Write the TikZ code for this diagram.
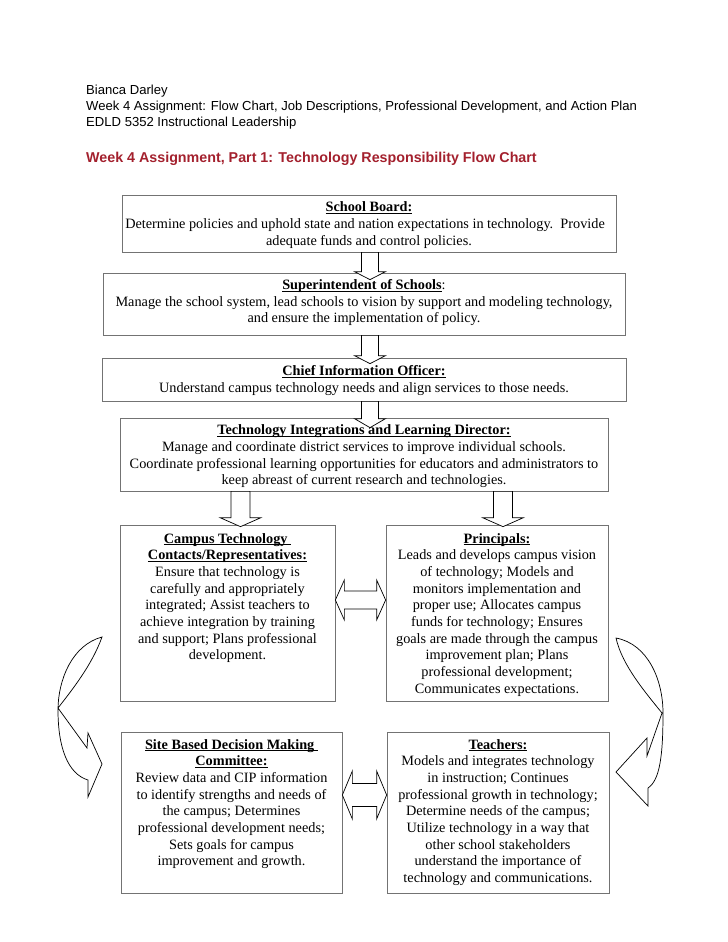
\documentclass[tikz,border=0pt]{standalone}
\usepackage{fontspec}
\setmainfont{Liberation Serif}
\newfontfamily\arialfont{Liberation Sans}
\usetikzlibrary{calc}
\definecolor{titlered}{RGB}{163,32,45}
\def\pxu{0.8407pt}
\newsavebox\ulbox
\newcommand{\uln}[1]{\sbox\ulbox{#1}\rlap{\rule[-1.5pt]{\wd\ulbox}{0.5pt}}\usebox\ulbox}
\def\downblock(#1)(#2)#3#4#5{\draw[blockarr] ($(#1)+(-#3,0)$) -- ($(#1)+(#3,0)$) -- ($(#1 |- #2)+(#3,-#5)$) -- ($(#1 |- #2)+(#4,-#5)$) -- (#1 |- #2) -- ($(#1 |- #2)+(-#4,-#5)$) -- ($(#1 |- #2)+(-#3,-#5)$) -- cycle;}
\def\twoblock(#1)(#2)#3#4#5{\draw[blockarr] (#1) -- ($(#1)+(#5,-#4)$) -- ($(#1)+(#5,-#3)$) -- ($(#2)+(-#5,-#3)$) -- ($(#2)+(-#5,-#4)$) -- (#2) -- ($(#2)+(-#5,#4)$) -- ($(#2)+(-#5,#3)$) -- ($(#1)+(#5,#3)$) -- ($(#1)+(#5,#4)$) -- cycle;}

\begin{document}
\begin{tikzpicture}[x=\pxu, y=-\pxu,
		box/.style 2 args={draw=black!55, line width=0.6pt, minimum width=#1*\pxu, minimum height=#2*\pxu, inner sep=0pt},
		boxtext/.style={anchor=north, align=center, inner sep=0pt, font=\fontsize{12}{14}\selectfont},
		blockarr/.style={draw=black, fill=white, line width=0.6pt, line join=miter},
		head/.style={anchor=base west, inner sep=0pt, font=\arialfont\fontsize{11}{13.5}\selectfont}]
		%%%%% START %%%%%
		
		\useasboundingbox (0,0) rectangle (728,942);
		
		\node[head] (name) at (86,94.5) {Bianca Darley};
		\node[head] (assign) at (86,110.5) {Week 4 Assignment: Flow Chart, Job Descriptions, Professional Development, and Action Plan};
		\node[head] (course) at (86,126.5) {EDLD 5352 Instructional Leadership};
		\node[head, font=\arialfont\bfseries\fontsize{12}{14}\selectfont, text=titlered] (title) at (86,162) {Week 4 Assignment, Part 1: Technology Responsibility Flow Chart};
		
		% boxes
		\node[box={494}{57}] (sb) at (369,223.5) {};
		\node[box={522}{62}] (sup) at (364,304) {};
		\node[box={524}{43}] (cio) at (364,379.5) {};
		\node[box={488}{73}] (tild) at (364,454.5) {};
		\node[box={215}{176}] (ctc) at (227.5,613) {};
		\node[box={222}{176}] (prin) at (497,613) {};
		\node[box={221}{161}] (sbdm) at (231.5,812.5) {};
		\node[box={222}{161}] (teach) at (498,812.5) {};
		
		% block arrows
		\coordinate (a1) at ($(sb.south)+(1,0)$);
		\coordinate (a1e) at ($(sup.north)+(0,7)$);
		\downblock(a1)(a1e){8.5}{15.5}{8}
		\coordinate (a2) at ($(sup.south)+(6,0)$);
		\coordinate (a2e) at ($(cio.north)+(0,6)$);
		\downblock(a2)(a2e){8.5}{15.5}{8}
		\coordinate (a3) at ($(cio.south)+(6,0)$);
		\coordinate (a3e) at ($(tild.north)+(0,10)$);
		\downblock(a3)(a3e){8.5}{15.5}{9}
		\coordinate (a4) at ($(tild.south)+(-123.5,0)$);
		\coordinate (a4e) at ($(ctc.north)+(0,2)$);
		\downblock(a4)(a4e){9.5}{20.5}{9}
		\coordinate (a5) at ($(tild.south)+(139,0)$);
		\coordinate (a5e) at ($(prin.north)+(0,2)$);
		\downblock(a5)(a5e){9.5}{20.5}{9}
		
		\coordinate (d1l) at ($(ctc.east)+(0,-13)$);
		\coordinate (d1r) at ($(prin.west)+(0,-13)$);
		\twoblock(d1l)(d1r){9}{20}{9}
		\coordinate (d2l) at ($(sbdm.east)+(0,-17.5)$);
		\coordinate (d2r) at ($(teach.west)+(0,-17.5)$);
		\twoblock(d2l)(d2r){11.5}{24}{10}
		
		% curved arrows at the sides
		\draw[blockarr] (102,637) .. controls (72,645) and (58,680) .. (58,710) .. controls (58,748) and (68,774) .. (88,780) -- (88,797) -- (102,764) -- (88,733) -- (87,748) -- (58,708) .. controls (72,690) and (92,665) .. (102,637) -- cycle;
		\draw[blockarr] (616,638) .. controls (648,644) and (663,680) .. (663,713) .. controls (663,755) and (660,780) .. (648,788) -- (648,806) -- (616,772) -- (647,738) -- (647,756) -- (662,713) .. controls (645,692) and (622,665) .. (616,638) -- cycle;
		
		% texts
		\node[boxtext] (sbt) at ($(sb.north)+(0,7)$) {\uln{\textbf{School Board:}}\\ Determine policies and uphold state and nation expectations in technology.\ \ Provide\kern6.7pt\\ adequate funds and control policies.};
		\node[boxtext] (supt) at ($(sup.north)+(0,6.5)$) {\uln{\textbf{Superintendent of Schools}}:\\ Manage the school system, lead schools to vision by support and modeling technology,\\ and ensure the implementation of policy.};
		\node[boxtext] (ciot) at ($(cio.north)+(0,7.5)$) {\uln{\textbf{Chief Information Officer:}}\\ Understand campus technology needs and align services to those needs.};
		\node[boxtext] (tildt) at ($(tild.north)+(0,7)$) {\uln{\textbf{Technology Integrations and Learning Director:}}\\ Manage and coordinate district services to improve individual schools.\\ Coordinate professional learning opportunities for educators and administrators to\\ keep abreast of current research and technologies.};
		\node[boxtext] (ctct) at ($(ctc.north)+(0,8.5)$) {\uln{\textbf{Campus Technology}\ }\\ \uln{\textbf{Contacts/Representatives:}}\\ Ensure that technology is\\ carefully and appropriately\\ integrated; Assist teachers to\\ achieve integration by training\\ and support; Plans professional\\ development.};
		\node[boxtext] (print) at ($(prin.north)+(0,8.5)$) {\uln{\textbf{Principals:}}\\ Leads and develops campus vision\\ of technology; Models and\\ monitors implementation and\\ proper use; Allocates campus\\ funds for technology; Ensures\\ goals are made through the campus\\ improvement plan; Plans\\ professional development;\\ Communicates expectations.};
		\node[boxtext] (sbdmt) at ($(sbdm.north)+(0,7.5)$) {\uln{\textbf{Site Based Decision Making}\ }\\ \uln{\textbf{Committee:}}\\ Review data and CIP information\\ to identify strengths and needs of\\ the campus; Determines\\ professional development needs;\\ Sets goals for campus\\ improvement and growth.};
		\node[boxtext] (teacht) at ($(teach.north)+(0,7.5)$) {\uln{\textbf{Teachers:}}\\ Models and integrates technology\\ in instruction; Continues\\ professional growth in technology;\\ Determine needs of the campus;\\ Utilize technology in a way that\\ other school stakeholders\\ understand the importance of\\ technology and communications.};
		
		%%%%% END %%%%%
	\end{tikzpicture}
\end{document}
